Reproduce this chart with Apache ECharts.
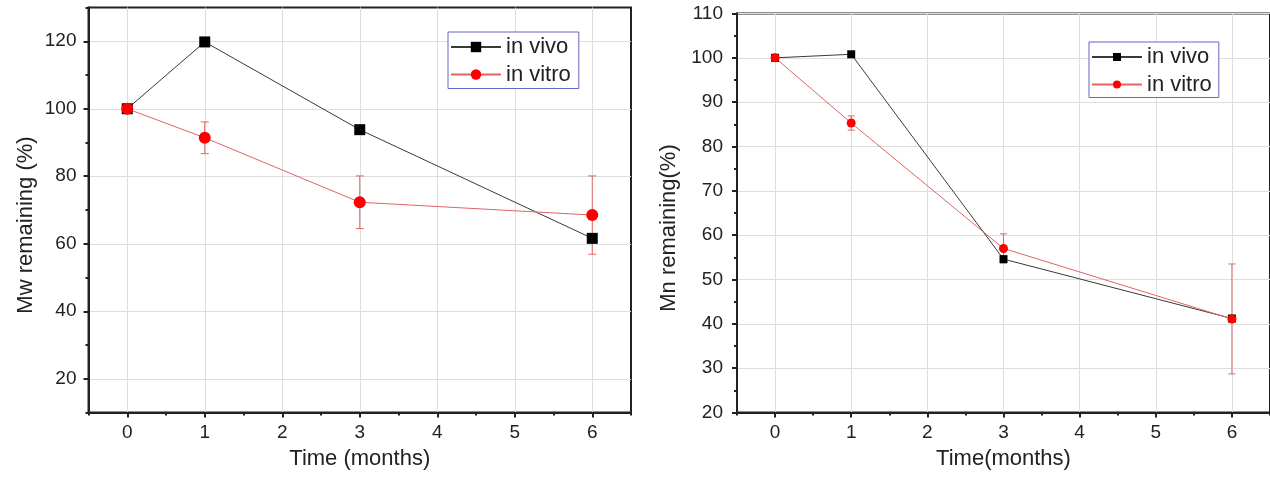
<!DOCTYPE html>
<html>
<head>
<meta charset="utf-8">
<script src="https://cdn.jsdelivr.net/npm/echarts@6/dist/echarts.min.js"></script>
<style>
  html, body { margin: 0; padding: 0; background: #fff; }
  #chart { width: 1270px; height: 478px; }
</style>
</head>
<body>
<div id="chart"></div>
<script>
// Sampling times (months)
const months = [0, 1, 3, 6];

// Weight-average molecular weight remaining (%)
const mwInVivo = [100, 119.8, 93.8, 61.6];
const mwInVitro = [100, 91.4, 72.3, 68.5];
const mwInVitroErr = [0, 4.7, 7.8, 11.6];

// Number-average molecular weight remaining (%)
const mnInVivo = [100, 100.8, 54.6, 41.2];
const mnInVitro = [100, 85.3, 57.0, 41.1];
const mnInVitroErr = [0, 1.6, 3.3, 12.4];

// Tick positions
const timeTicks = [0, 1, 2, 3, 4, 5, 6];
const timeMinorTicks = [-0.5, 0.5, 1.5, 2.5, 3.5, 4.5, 5.5, 6.5];
const mwTicks = [20, 40, 60, 80, 100, 120];
const mwMinorTicks = [10, 30, 50, 70, 90, 110, 130];

const FONT = "'Liberation Sans', Arial, sans-serif";
const INK = '#222';
const BLACK_LINE = '#3a3a3a';
const RED_LINE = '#e06565';
const RED = '#ff0000';
const GRID_LINE = '#dedede';

function mainXAxis(gridIndex, name) {
  return {
    type: 'value', gridIndex, min: -0.5, max: 6.5, interval: 0.5,
    position: 'bottom',
    name, nameLocation: 'middle', nameGap: 35,
    nameTextStyle: { fontFamily: FONT, fontSize: 22, color: INK },
    axisLine: { show: true, onZero: false, lineStyle: { color: INK, width: 2 } },
    axisTick: { show: true, inside: false, length: 5, customValues: timeTicks,
      lineStyle: { color: INK, width: 2 } },
    axisLabel: { customValues: timeTicks, margin: 11, fontFamily: FONT, fontSize: 19, color: INK },
    splitLine: { show: true, lineStyle: { color: GRID_LINE, width: 1 } }
  };
}

function minorXAxis(gridIndex) {
  return {
    type: 'value', gridIndex, min: -0.5, max: 6.5, interval: 0.5,
    position: 'bottom',
    axisLine: { show: false, onZero: false },
    axisTick: { show: true, length: 3, customValues: timeMinorTicks,
      lineStyle: { color: INK, width: 2 } },
    axisLabel: { show: false },
    splitLine: { show: false }
  };
}

function errorBars(xAxisIndex, yAxisIndex, values, errs, capHalf) {
  return {
    type: 'custom',
    xAxisIndex, yAxisIndex,
    silent: true,
    z: 2,
    data: months.map((m, i) => [m, values[i] - errs[i], values[i] + errs[i]]),
    encode: { x: 0, y: [1, 2] },
    renderItem(params, api) {
      const x = api.value(0);
      const lo = api.coord([x, api.value(1)]);
      const hi = api.coord([x, api.value(2)]);
      const style = { stroke: RED_LINE, lineWidth: 1 };
      return {
        type: 'group',
        children: [
          { type: 'line', shape: { x1: lo[0], y1: lo[1], x2: hi[0], y2: hi[1] }, style },
          { type: 'line', shape: { x1: lo[0] - capHalf, y1: lo[1], x2: lo[0] + capHalf, y2: lo[1] }, style },
          { type: 'line', shape: { x1: hi[0] - capHalf, y1: hi[1], x2: hi[0] + capHalf, y2: hi[1] }, style }
        ]
      };
    }
  };
}

function lineSeries(name, xAxisIndex, yAxisIndex, values, symbol, size, markColor, lineColor) {
  return {
    name, type: 'line', xAxisIndex, yAxisIndex,
    data: months.map((m, i) => [m, values[i]]),
    symbol, symbolSize: size,
    showAllSymbol: true,
    itemStyle: { color: markColor },
    lineStyle: { color: lineColor, width: 1 },
    z: 3
  };
}

function legendBox(left, top, itemHeight, padding) {
  return {
    left, top, orient: 'vertical',
    data: ['in vivo', 'in vitro'],
    itemWidth: 50, itemHeight, itemGap: 5.5,
    padding,
    borderColor: '#6767c4', borderWidth: 1, borderRadius: 0,
    backgroundColor: '#fff',
    selectedMode: false,
    textStyle: { fontFamily: FONT, fontSize: 22, color: INK }
  };
}

const chart = echarts.init(document.getElementById('chart'), null, { renderer: 'canvas' });

chart.setOption({
  animation: false,
  backgroundColor: '#fff',
  grid: [
    { left: 88.5, right: 639, top: 7.5, bottom: 65.5, show: true,
      borderColor: INK, borderWidth: 2, backgroundColor: 'transparent' },
    { left: 737, right: -2, top: 13.5, bottom: 65.5, show: true,
      borderColor: INK, borderWidth: 2, backgroundColor: 'transparent' }
  ],
  xAxis: [
    mainXAxis(0, 'Time (months)'),
    minorXAxis(0),
    mainXAxis(1, 'Time(months)'),
    minorXAxis(1)
  ],
  yAxis: [
    {
      type: 'value', gridIndex: 0, min: 10, max: 130, interval: 10,
      position: 'left',
      name: 'Mw remaining (%)', nameLocation: 'middle', nameGap: 52,
      nameTextStyle: { fontFamily: FONT, fontSize: 22, color: INK, padding: [0, 30, 0, 0] },
      axisLine: { show: true, onZero: false, lineStyle: { color: INK, width: 2 } },
      axisTick: { show: true, length: 5, customValues: mwTicks, lineStyle: { color: INK, width: 2 } },
      axisLabel: { customValues: mwTicks, margin: 12, fontFamily: FONT, fontSize: 19, color: INK },
      splitLine: { show: true, lineStyle: { color: GRID_LINE, width: 1 } }
    },
    {
      type: 'value', gridIndex: 0, min: 10, max: 130, interval: 10,
      position: 'left',
      axisLine: { show: false, onZero: false },
      axisTick: { show: true, length: 3, customValues: mwMinorTicks, lineStyle: { color: INK, width: 2 } },
      axisLabel: { show: false },
      splitLine: { show: false }
    },
    {
      type: 'value', gridIndex: 1, min: 20, max: 110, interval: 10,
      position: 'left',
      name: 'Mn remaining(%)', nameLocation: 'middle', nameGap: 57,
      nameTextStyle: { fontFamily: FONT, fontSize: 22, color: INK, padding: [0, 30, 0, 0] },
      axisLine: { show: true, onZero: false, lineStyle: { color: INK, width: 2 } },
      axisTick: { show: true, length: 5, lineStyle: { color: INK, width: 2 } },
      minorTick: { show: true, splitNumber: 2, length: 3, lineStyle: { color: INK, width: 2 } },
      axisLabel: { margin: 14, fontFamily: FONT, fontSize: 19, color: INK },
      splitLine: { show: true, lineStyle: { color: GRID_LINE, width: 1 } }
    }
  ],
  legend: [
    legendBox(448, 32, 13, [4, 8, 3, 2]),
    legendBox(1089, 42, 10, [4, 7, 2, 2])
  ],
  series: [
    lineSeries('in vivo', 0, 0, mwInVivo, 'rect', 11, '#000', BLACK_LINE),
    errorBars(0, 0, mwInVitro, mwInVitroErr, 4),
    lineSeries('in vitro', 0, 0, mwInVitro, 'circle', 12, RED, RED_LINE),
    lineSeries('in vivo', 2, 2, mnInVivo, 'rect', 8, '#000', BLACK_LINE),
    errorBars(2, 2, mnInVitro, mnInVitroErr, 3.5),
    lineSeries('in vitro', 2, 2, mnInVitro, 'circle', 9, RED, RED_LINE)
  ]
});
</script>
</body>
</html>
